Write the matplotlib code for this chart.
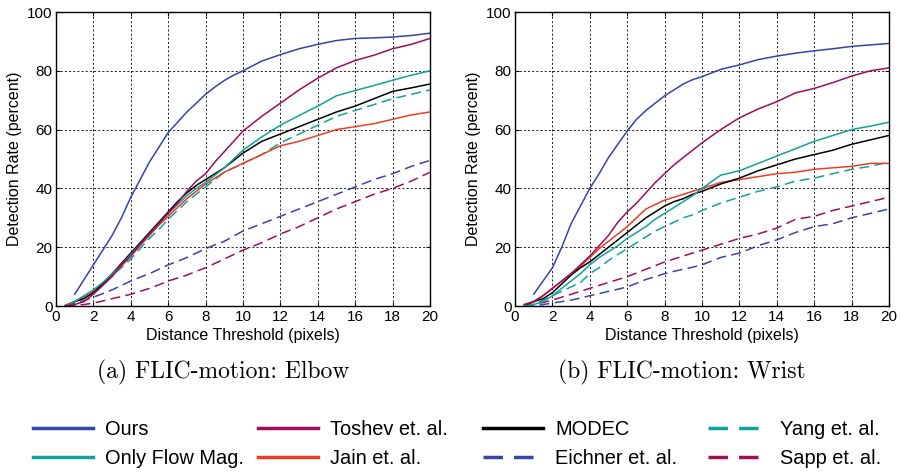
"""Detection rate vs distance threshold, FLIC-motion elbow and wrist"""
import matplotlib
matplotlib.use('Agg')
import matplotlib.pyplot as plt
from matplotlib.lines import Line2D

x_all = [0.5, 1, 1.5, 2, 2.5, 3, 3.5, 4, 4.5, 5, 5.5, 6, 6.5, 7, 7.5, 8, 8.5, 9, 9.5, 10,
         11, 12, 13, 14, 15, 16, 17, 18, 19, 20]
x_ours = x_all[1:]

# (a) elbow
elbow_ours    = [4, 9, 14, 19, 24, 30, 37, 43, 49, 54, 59, 62.5, 66, 69, 72, 74.5, 76.7, 78.5, 80,
                 83.3, 85.5, 87.5, 89, 90.3, 91, 91.2, 91.5, 92, 92.8]
elbow_toshev  = [0, 0.5, 1.5, 4, 7, 10, 14, 17, 21, 24.5, 28, 31.5, 35, 39, 42.5, 45, 49, 52.5, 56, 59.5,
                 64.5, 69, 73.5, 77.5, 81, 83.5, 85.3, 87.5, 89, 91]
elbow_flow    = [0, 1.5, 3.5, 5.5, 8, 11, 14, 17.5, 21, 24.5, 28, 31.5, 34.5, 37.5, 40, 42, 44.5, 47, 50, 53,
                 57.5, 61.5, 64.8, 68, 71.5, 73.3, 75, 76.8, 78.5, 80]
elbow_modec   = [0, 1.5, 2.5, 4.5, 7.5, 11, 14.5, 18, 21.5, 25, 28.5, 32, 35.5, 38.5, 41, 43, 45, 47, 49.5, 52,
                 56, 58.5, 61, 63.5, 66, 68, 70.5, 73, 74.2, 75.5]
elbow_jain    = [0.3, 1.5, 3, 5, 7.5, 10.5, 13.5, 17, 20.5, 24, 27.5, 30.5, 33.5, 36.5, 39, 41.5, 43.5, 45.5, 47, 48.5,
                 51.5, 54.5, 56, 58, 60, 61, 62, 63.5, 65, 66]
elbow_yang    = [0, 1.5, 3, 5, 7.5, 10.5, 13, 16, 19.5, 23, 26, 29.5, 32.5, 35.5, 38, 40.5, 43, 45.5, 47, 48.5,
                 51.5, 55.5, 58.5, 61.5, 64.5, 66.5, 68.5, 70.5, 72, 73.5]
elbow_eichner = [0.2, 1, 1.8, 3, 4.2, 5.5, 7, 8.5, 9.8, 11, 12.5, 14, 15.2, 16.5, 18, 19.5, 20.8, 22, 23.8, 25.5,
                 28, 30.5, 33, 35.5, 38, 40.5, 43, 45, 47.5, 49.5]
elbow_sapp    = [0, 0.2, 0.5, 1, 1.7, 2.5, 3.2, 4, 5, 6, 7.2, 8.5, 9.5, 10.5, 11.8, 13, 14.5, 16, 17.5, 19,
                 21.5, 24.5, 27, 30, 33, 35.5, 38, 40, 42.5, 45.5]

# (b) wrist
wrist_ours    = [4, 8.5, 13, 20, 28, 34, 40, 45, 50.5, 55, 59.5, 63.5, 66.5, 69, 71.5, 73.5, 75.5, 77, 78,
                 80.5, 82, 83.8, 85, 86, 86.8, 87.5, 88.3, 88.8, 89.3]
wrist_toshev  = [0.5, 1.5, 3.5, 6, 8.5, 11, 14, 17, 20.5, 24, 28.5, 32, 35, 38.5, 42, 45, 48, 50.5, 53, 55.5,
                 60, 64, 67, 69.5, 72.5, 74, 76, 78.2, 80, 81]
wrist_flow    = [0, 0.5, 1.5, 3.5, 6, 8.5, 11, 14, 16.5, 18.5, 20.5, 23, 25, 27, 29.5, 31.5, 33.5, 35.5, 37.5, 40,
                 44.5, 46, 48.5, 51, 53.5, 56, 58, 60, 61.2, 62.5]
wrist_modec   = [0, 1.5, 2.5, 4.5, 7.5, 10.5, 13, 15, 17.5, 20, 22.5, 25, 27.5, 30, 32, 34, 35.5, 36.5, 38, 39,
                 41.5, 43.5, 46, 48, 50, 51.5, 53, 55, 56.5, 58]
wrist_jain    = [0.5, 1.5, 3.5, 6, 8.5, 11, 13.5, 16.5, 19.5, 22, 24.5, 27, 30, 33, 34.5, 36, 37, 38, 39, 40,
                 42, 43, 44, 45, 45.5, 46.5, 47, 47.5, 48.5, 48.5]
wrist_yang    = [0, 0.5, 2, 3.5, 5, 6.5, 8, 11, 13, 15.5, 17.5, 19.5, 21.5, 23.5, 25.5, 27, 28.5, 30, 31, 32.5,
                 35, 37, 39, 40.5, 42.5, 43.5, 45, 46.5, 47.5, 49]
wrist_eichner = [0, 0, 0.5, 1, 1.5, 2, 2.7, 3.5, 4.2, 5, 5.7, 6.5, 7.7, 9, 10, 11, 11.8, 12.5, 13.2, 14,
                 16.5, 18, 20.5, 22.5, 25, 27, 28, 30, 31.5, 33]
wrist_sapp    = [0.3, 0.5, 1.2, 2, 3, 4, 5, 6, 7, 8, 9, 10, 11.2, 12.5, 13.7, 15, 16, 17, 18, 19,
                 21, 23, 24.5, 26.5, 29.5, 30.5, 32.5, 34, 35.5, 37]

names = ['Ours', 'Only Flow Mag.', 'Toshev et. al.', 'Jain et. al.',
         'MODEC', 'Eichner et. al.', 'Yang et. al.', 'Sapp et. al.']
captions = ['(a) FLIC-motion: Elbow', '(b) FLIC-motion: Wrist']

BLUE = '#3545a8'
MAROON = '#a00d5a'
TEAL = '#12a29c'
RED = '#ea3d28'
styles = {
  'Ours':            (BLUE, '-'),
  'Only Flow Mag.':  (TEAL, '-'),
  'Toshev et. al.':  (MAROON, '-'),
  'Jain et. al.':    (RED, '-'),
  'MODEC':           ('black', '-'),
  'Eichner et. al.': (BLUE, '--'),
  'Yang et. al.':    (TEAL, '--'),
  'Sapp et. al.':    (MAROON, '--'),
}

panels = [
  {'Ours': elbow_ours, 'Only Flow Mag.': elbow_flow, 'Toshev et. al.': elbow_toshev,
   'Jain et. al.': elbow_jain, 'MODEC': elbow_modec, 'Eichner et. al.': elbow_eichner,
   'Yang et. al.': elbow_yang, 'Sapp et. al.': elbow_sapp},
  {'Ours': wrist_ours, 'Only Flow Mag.': wrist_flow, 'Toshev et. al.': wrist_toshev,
   'Jain et. al.': wrist_jain, 'MODEC': wrist_modec, 'Eichner et. al.': wrist_eichner,
   'Yang et. al.': wrist_yang, 'Sapp et. al.': wrist_sapp},
]
draw_order = ['Sapp et. al.', 'Eichner et. al.', 'Yang et. al.', 'Jain et. al.',
              'MODEC', 'Only Flow Mag.', 'Toshev et. al.', 'Ours']

plt.rcParams['font.family'] = ['Liberation Sans', 'DejaVu Sans']

W, H = 901, 472
fig = plt.figure(figsize=(W/100, H/100), dpi=100)
axes_left = [56, 515]
ax_w, ax_top, ax_bot = 374, 12, 306

for k, data in enumerate(panels):
  ax = fig.add_axes([axes_left[k]/W, 1-ax_bot/H, ax_w/W, (ax_bot-ax_top)/H])
  for name in draw_order:
    col, ls = styles[name]
    xs = x_ours if name == 'Ours' else x_all
    if ls == '--':
      ax.plot(xs, data[name], color=col, lw=1.1, dashes=(6.5, 3.5))
    else:
      ax.plot(xs, data[name], color=col, lw=1.1)
  ax.set_xlim(0, 20)
  ax.set_ylim(0, 100)
  ax.set_xticks(range(0, 21, 2))
  ax.set_yticks(range(0, 101, 20))
  ax.grid(True, color='black', linestyle=(0, (2.5, 2.5)), linewidth=0.6)
  ax.tick_params(direction='in', top=True, right=True, length=3, labelsize=11, colors='black')
  ax.tick_params(axis='x', pad=3)
  ax.tick_params(axis='y', pad=2.5)
  for s in ax.spines.values():
    s.set_linewidth(1.0)
  ax.set_xlabel('Distance Threshold (pixels)', fontsize=11.5)
  ax.set_ylabel('Detection Rate (percent)', fontsize=11.5)
  ax.xaxis.set_label_coords(0.5, -0.076)
  ax.yaxis.set_label_coords(-0.09, 0.5)
  fig.text((axes_left[k]+ax_w/2-20)/W, 1-372/H, captions[k], fontfamily='cmr10',
           fontsize=17, ha='center', va='center')

# legend: four columns, each its own legend so the columns sit where they should
col_x = [33, 258, 483, 708]
for c in range(4):
  hs = []
  for name in names[2*c:2*c+2]:
    col, ls = styles[name]
    if ls == '--':
      hs.append(Line2D([], [], color=col, lw=2.5, dashes=(5.6, 3.2)))
    else:
      hs.append(Line2D([], [], color=col, lw=2.5))
  fig.legend(hs, names[2*c:2*c+2], loc='center left', bbox_to_anchor=(col_x[c]/W, 1-444/H),
             frameon=False, fontsize=14.4, handlelength=3.0, handletextpad=0.6,
             labelspacing=0.5, borderpad=0, borderaxespad=0)

fig.savefig('out.png', dpi=100)
